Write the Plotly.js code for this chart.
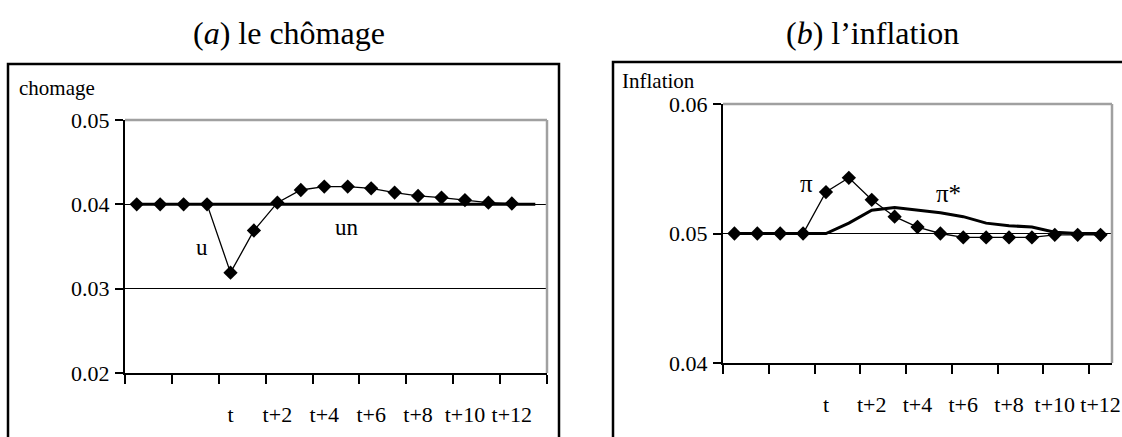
<!DOCTYPE html>
<html>
<head>
<meta charset="utf-8">
<script src="https://cdn.plot.ly/plotly-3.0.1.min.js"></script>
<style>html,body{margin:0;padding:0;background:#fff;}#chart{width:1122px;height:437px;}</style>
</head>
<body>
<div id="chart"></div>
<script>
// ---- data ----
const periods = ["t-4","t-3","t-2","t-1","t","t+1","t+2","t+3","t+4","t+5","t+6","t+7","t+8","t+9","t+10","t+11","t+12","t+13"];
const uValues = [0.040,0.040,0.040,0.040,0.0319,0.0369,0.0402,0.0417,0.0421,0.0421,0.0419,0.0414,0.0410,0.0408,0.0405,0.0402,0.0401];
const unValues = [0.040,0.040,0.040,0.040,0.040,0.040,0.040,0.040,0.040,0.040,0.040,0.040,0.040,0.040,0.040,0.040,0.040,0.040];
const piValues = [0.050,0.050,0.050,0.050,0.0532,0.0543,0.0526,0.0513,0.0505,0.0500,0.0497,0.0497,0.0497,0.0497,0.0499,0.0499,0.0499];
const piStarValues = [0.050,0.050,0.050,0.050,0.0500,0.0508,0.0518,0.0520,0.0518,0.0516,0.0513,0.0508,0.0506,0.0505,0.0501,0.0500,0.0500];
const leftTickText = ["","","t","t+2","t+4","t+6","t+8","t+10","t+12"];
const rightTickText = ["","","t","t+2","t+4","t+6","t+8","t+10","t+12"];
const leftYTicks = [0.02,0.03,0.04,0.05];
const rightYTicks = [0.04,0.05,0.06];

// ---- helpers ----
const W = 1122, H = 437;
const px = v => v / W;
const py = v => (H - v) / H;
const idx = arr => arr.map((_, i) => i);
const labelPos = n => Array.from({length: n}, (_, k) => 2 * k);
const boundaries = n => Array.from({length: n}, (_, k) => 2 * k - 0.5);
const serif = '"Liberation Serif", "Times New Roman", serif';

const traces = [
  {x: idx(unValues), y: unValues, xaxis: "x", yaxis: "y", mode: "lines",
   line: {color: "#000", width: 3}, name: "un"},
  {x: idx(uValues), y: uValues, xaxis: "x", yaxis: "y", mode: "lines+markers",
   line: {color: "#000", width: 1.3}, marker: {symbol: "diamond", size: 11, color: "#000"}, name: "u"},
  {x: idx(piStarValues), y: piStarValues, xaxis: "x2", yaxis: "y2", mode: "lines",
   line: {color: "#000", width: 3}, name: "π*"},
  {x: idx(piValues), y: piValues, xaxis: "x2", yaxis: "y2", mode: "lines+markers",
   line: {color: "#000", width: 1.3}, marker: {symbol: "diamond", size: 11, color: "#000"}, name: "π"}
];

const tickFont = {family: serif, size: 22, color: "#000"};
const xCommon = {
  showline: true, linecolor: "#000", linewidth: 2, ticks: "outside", ticklen: 9,
  tickwidth: 2, tickcolor: "rgba(0,0,0,0)", tickmode: "array", showgrid: false, zeroline: false,
  tickfont: tickFont, ticklabelstandoff: 12, fixedrange: true
};
const minorTicks = vals => ({tickmode: "array", tickvals: vals, ticks: "outside", ticklen: 9,
  tickwidth: 2, tickcolor: "#000", showgrid: false});
const yCommon = {
  showline: true, linecolor: "#000", linewidth: 2, ticks: "outside", ticklen: 8,
  tickwidth: 2, tickcolor: "#000", tickmode: "array", tickformat: ".2f",
  showgrid: true, gridcolor: "#000", zeroline: false, tickfont: tickFont,
  ticklabelstandoff: 1, fixedrange: true
};

const layout = {
  width: W, height: H, margin: {l: 0, r: 0, t: 0, b: 0},
  paper_bgcolor: "#fff", plot_bgcolor: "#fff", showlegend: false,
  xaxis: Object.assign({}, xCommon, {
    domain: [px(125), px(547)], range: [-0.5, unValues.length - 0.5], anchor: "y",
    tickvals: labelPos(leftTickText.length), ticktext: leftTickText,
    minor: minorTicks(boundaries(10))
  }),
  yaxis: Object.assign({}, yCommon, {
    domain: [py(373), py(120)], range: [0.02, 0.05], anchor: "x",
    tickvals: leftYTicks, gridwidth: 1.5
  }),
  xaxis2: Object.assign({}, xCommon, {
    domain: [px(723), px(1112)], range: [-0.5, piValues.length - 0.5], anchor: "y2",
    tickvals: labelPos(rightTickText.length), ticktext: rightTickText,
    minor: minorTicks(boundaries(9))
  }),
  yaxis2: Object.assign({}, yCommon, {
    domain: [py(363), py(104)], range: [0.04, 0.06], anchor: "x2",
    tickvals: rightYTicks, gridwidth: 1
  }),
  shapes: [
    {type: "line", xref: "x domain", yref: "y domain", x0: 0, x1: 1, y0: 1, y1: 1, line: {color: "#a0a0a0", width: 2.5}},
    {type: "line", xref: "x domain", yref: "y domain", x0: 1, x1: 1, y0: 0, y1: 1, line: {color: "#a0a0a0", width: 2.5}},
    {type: "line", xref: "x2 domain", yref: "y2 domain", x0: 0, x1: 1, y0: 1, y1: 1, line: {color: "#a0a0a0", width: 2.5}},
    {type: "line", xref: "x2 domain", yref: "y2 domain", x0: 1, x1: 1, y0: 0, y1: 1, line: {color: "#a0a0a0", width: 2.5}},
    {type: "rect", xref: "paper", yref: "paper", x0: px(8), x1: px(559), y0: -0.1, y1: py(64), line: {color: "#000", width: 2.5}},
    {type: "rect", xref: "paper", yref: "paper", x0: px(613), x1: 1.1, y0: -0.1, y1: py(62), line: {color: "#000", width: 2.5}}
  ],
  annotations: [
    {xref: "paper", yref: "paper", x: px(289), y: py(33), xanchor: "center", yanchor: "middle", showarrow: false,
     text: "(<i>a</i>) le chômage", font: {family: serif, size: 32, color: "#000"}},
    {xref: "paper", yref: "paper", x: px(872), y: py(33), xanchor: "center", yanchor: "middle", showarrow: false,
     text: "(<i>b</i>) l’inflation", font: {family: serif, size: 32, color: "#000"}},
    {xref: "paper", yref: "paper", x: px(17), y: py(88), xanchor: "left", yanchor: "middle", showarrow: false,
     text: "chomage", font: {family: serif, size: 21, color: "#000"}},
    {xref: "paper", yref: "paper", x: px(620), y: py(81), xanchor: "left", yanchor: "middle", showarrow: false,
     text: "Inflation", font: {family: serif, size: 21, color: "#000"}},
    {xref: "paper", yref: "paper", x: px(202), y: py(248), xanchor: "center", yanchor: "middle", showarrow: false,
     text: "u", font: {family: serif, size: 23, color: "#000"}},
    {xref: "paper", yref: "paper", x: px(347), y: py(227), xanchor: "center", yanchor: "middle", showarrow: false,
     text: "un", font: {family: serif, size: 23, color: "#000"}},
    {xref: "paper", yref: "paper", x: px(806), y: py(183), xanchor: "center", yanchor: "middle", showarrow: false,
     text: "π", font: {family: serif, size: 25, color: "#000"}},
    {xref: "paper", yref: "paper", x: px(948), y: py(193), xanchor: "center", yanchor: "middle", showarrow: false,
     text: "π*", font: {family: serif, size: 25, color: "#000"}}
  ]
};

Plotly.newPlot("chart", traces, layout, {staticPlot: true, displayModeBar: false});
</script>
</body>
</html>
